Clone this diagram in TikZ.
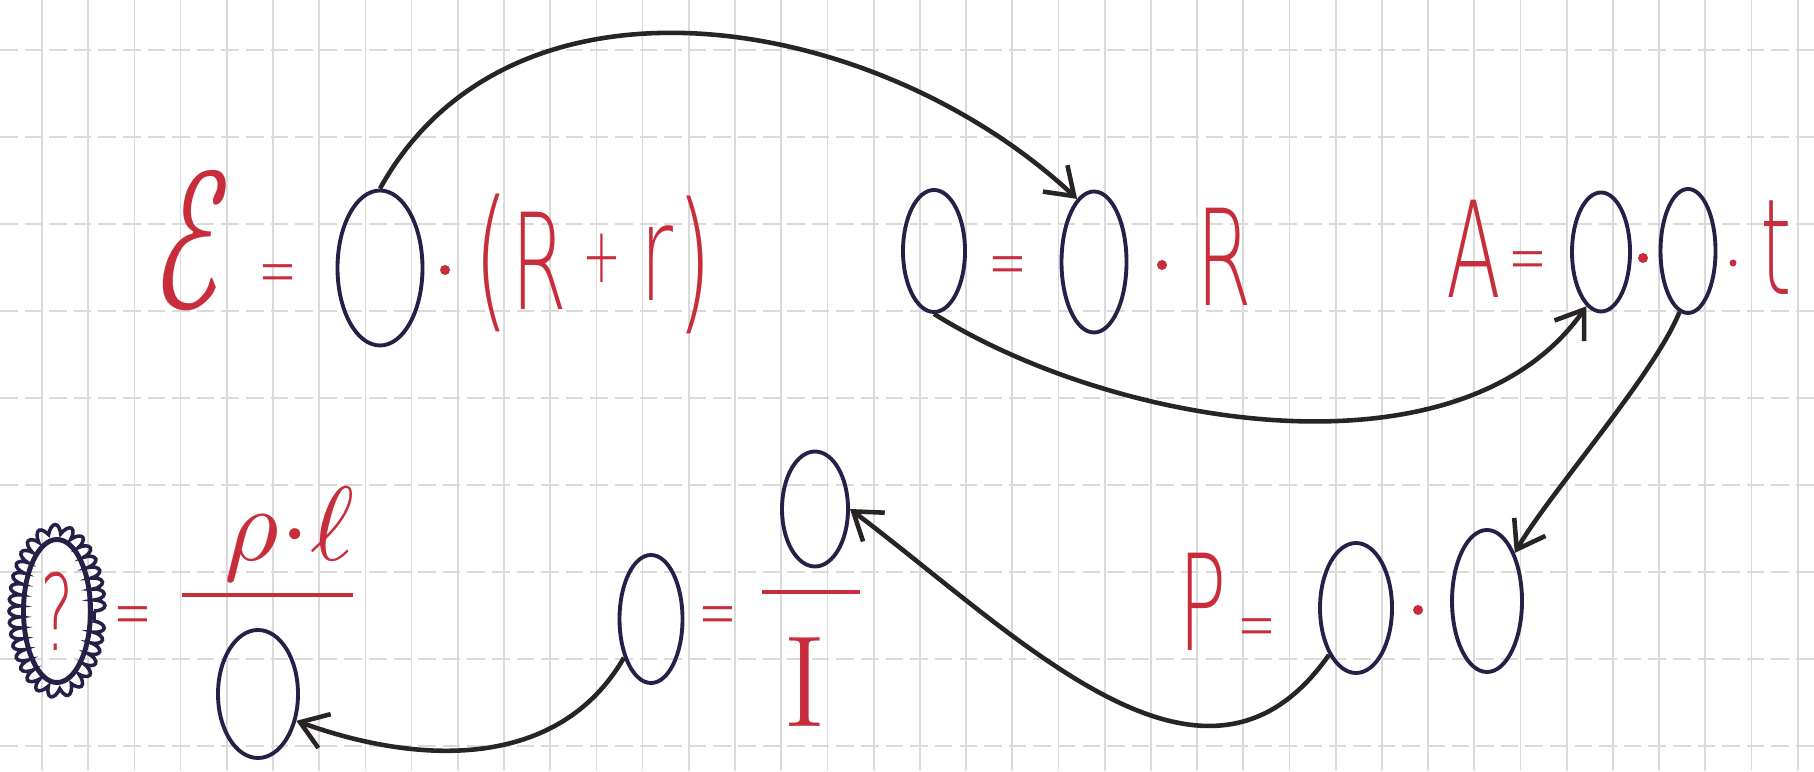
\documentclass[tikz,border=0pt]{standalone}
\usepackage{graphicx}
\usepackage{fontspec}
\usepackage{unicode-math}
\usetikzlibrary{arrows.meta, positioning, calc, shapes.geometric, decorations.pathmorphing}

\newfontfamily\penfont{DejaVu Sans ExtraLight}

\definecolor{penred}{RGB}{200,45,60}
\definecolor{inkblue}{RGB}{38,32,72}
\definecolor{pencil}{RGB}{40,36,36}
\definecolor{gridgray}{RGB}{218,218,218}

\newcommand{\handnarrow}[1]{\scalebox{0.6}[1]{#1}}

\begin{document}
\begin{tikzpicture}[
    blank/.style={ellipse, draw=inkblue, line width=1.1pt, inner sep=0pt},
    hand/.style={text=penred, font=\fontsize{38}{38}\selectfont\penfont, inner sep=0pt},
    sign/.style={text=penred, font=\fontsize{22}{22}\selectfont\penfont, inner sep=0pt, yshift=-0.13cm},
    mdot/.style={circle, fill=penred, inner sep=0pt, minimum size=0.1cm},
    link/.style={-{Straight Barb[length=2.6mm, width=3.6mm]}, draw=pencil, line width=1.3pt},
    fracbar/.style={draw=penred, line width=1.2pt},
    gridline/.style={draw=gridgray, line width=0.5pt}
]
    % ========== SQUARED PAPER ==========
    \useasboundingbox (0,0) rectangle (18.14,7.71);
    \foreach \k in {0,...,38}
        \draw[gridline] ({0.42+0.462*\k},0) -- ({0.42+0.462*\k},7.71);
    \foreach \k in {0,...,8}
        \draw[gridline, dash pattern=on 5pt off 2pt] (0,{7.21-0.87*\k}) -- (18.14,{7.21-0.87*\k});

    % ========== ROW 1 ==========

    % EMF: E = () * (R + r)
    \node[hand, font=\fontsize{56}{56}\selectfont] (emf_sym) at (1.95,5.30) {\handnarrow{$\mathcal{E}$}};
    \node[sign] (emf_eq) at (2.78,5.03) {\handnarrow{=}};
    \node[blank, minimum width=0.85cm, minimum height=1.55cm] (emf_i) at (3.80,5.03) {};
    \node[mdot] (emf_dot) at (4.45,5.01) {};
    \node[hand, font=\fontsize{44}{44}\selectfont\penfont] (emf_lpar) at (4.92,5.08) {\handnarrow{(}};
    \node[hand] (emf_R) at (5.39,5.10) {\handnarrow{R}};
    \node[sign] (emf_plus) at (6.02,5.26) {\handnarrow{+}};
    \node[hand] (emf_r) at (6.57,5.08) {\handnarrow{r}};
    \node[hand, font=\fontsize{44}{44}\selectfont\penfont] (emf_rpar) at (6.95,5.06) {\handnarrow{)}};

    % Ohm: () = () * R
    \node[blank, minimum width=0.62cm, minimum height=1.22cm] (ohm_u) at (9.34,5.20) {};
    \node[sign] (ohm_eq) at (10.08,5.11) {\handnarrow{=}};
    \node[blank, minimum width=0.65cm, minimum height=1.41cm] (ohm_i) at (10.94,5.09) {};
    \node[mdot] (ohm_dot) at (11.62,5.06) {};
    \node[hand] (ohm_R) at (12.24,5.14) {\handnarrow{R}};

    % Work: A = () * () * t
    \node[hand] (work_A) at (14.74,5.22) {\handnarrow{A}};
    \node[sign] (work_eq) at (15.28,5.16) {\handnarrow{=}};
    \node[blank, minimum width=0.58cm, minimum height=1.19cm] (work_u) at (16.01,5.19) {};
    \node[mdot] (work_dot1) at (16.43,5.13) {};
    \node[blank, minimum width=0.55cm, minimum height=1.24cm] (work_i) at (16.88,5.20) {};
    \node[mdot, minimum size=0.07cm] (work_dot2) at (17.33,5.08) {};
    \node[hand] (work_t) at (17.76,5.23) {\handnarrow{t}};

    % ========== ROW 2 ==========

    % Area: ? = rho * l / ()
    \node[blank, minimum width=0.67cm, minimum height=1.43cm, line width=1.4pt,
          text=penred, font=\fontsize{30}{30}\selectfont\penfont] (area_s) at (0.57,1.60) {\handnarrow{?}};
    \draw[draw=inkblue, line width=1pt, decorate,
          decoration={bumps, mirror, segment length=2.2mm, amplitude=1.1mm}]
        (area_s.center) ellipse [x radius=0.37, y radius=0.75];
    \node[sign] (area_eq) at (1.33,1.61) {\handnarrow{=}};
    \node[text=penred, font=\fontsize{30}{30}\selectfont, inner sep=0pt] (area_num) at (2.90,2.36) {$\rho{\cdot}\ell$};
    \draw[fracbar] (1.82,1.76) -- (3.53,1.76);
    \node[blank, minimum width=0.80cm, minimum height=1.28cm] (area_r) at (2.58,0.77) {};

    % Resistance: () = () / I
    \node[blank, minimum width=0.63cm, minimum height=1.28cm] (res_r) at (6.51,1.52) {};
    \node[sign] (res_eq) at (7.18,1.61) {\handnarrow{=}};
    \node[blank, minimum width=0.66cm, minimum height=1.15cm] (res_u) at (8.15,2.62) {};
    \draw[fracbar] (7.62,1.79) -- (8.60,1.79);
    \node[hand, font=\fontsize{37}{37}\selectfont\rmfamily] (res_I) at (8.05,0.89) {I};

    % Power: P = () * ()
    \node[hand] (pow_P) at (12.03,1.69) {\handnarrow{P}};
    \node[sign] (pow_eq) at (12.57,1.49) {\handnarrow{=}};
    \node[blank, minimum width=0.72cm, minimum height=1.30cm] (pow_u) at (13.56,1.63) {};
    \node[mdot] (pow_dot) at (14.18,1.61) {};
    \node[blank, minimum width=0.70cm, minimum height=1.42cm] (pow_i) at (14.87,1.70) {};

    % ========== CARRY-OVER ARROWS ==========
    \draw[link] (emf_i.north) to[out=61, in=137] (ohm_i.105);
    \draw[link] (ohm_u.south) to[out=-32, in=235, looseness=0.85] (work_u.255);
    \draw[link] (work_i.262) to[out=-112, in=60, looseness=0.6] (pow_i.60);
    \draw[link] (pow_u.240) to[out=-125, in=-37, looseness=1.1] (res_u.east);
    \draw[link] (res_r.235) to[out=-120, in=-20] (area_r.-35);

\end{tikzpicture}
\end{document}
